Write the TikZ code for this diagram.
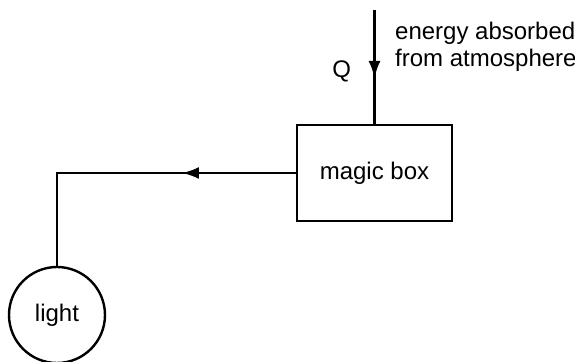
\documentclass[tikz,border=0pt]{standalone}
\usepackage{fontspec}
\setmainfont{Liberation Sans}
\usetikzlibrary{arrows.meta}

\begin{document}
\begin{tikzpicture}[x=0.5pt, y=-0.5pt, line width=1.2pt,
    font=\fontsize{12}{13.5}\selectfont,
    flow/.style={-{Latex[length=8.5pt,width=6pt]}}]

    % Page frame
    \useasboundingbox (0,0) rectangle (575,362);

    % Box and lamp
    \node[draw, minimum width=77.5pt, minimum height=48pt] (box) at (374.5,173) {magic box};
    \node[draw, circle, minimum size=48pt, inner sep=0pt] (light) at (57,315) {light};

    % Heat coming in
    \coordinate (top) at (374.5,10);
    \coordinate (qtip) at (374.5,78);
    \draw (top) -- (box.north);
    \draw[flow] (top) -- (qtip);
    \node[anchor=east] (q) at (359,71) {Q};
    \node[anchor=west, align=left, inner sep=0pt] (src) at (394,47) {energy absorbed\\from atmosphere};

    % Out to the light
    \coordinate (corner) at (57,173);
    \coordinate (ltip) at (182,173);
    \draw (box.west) -- (corner) -- (light.north);
    \draw[flow] (box.west) -- (ltip);

\end{tikzpicture}
\end{document}
